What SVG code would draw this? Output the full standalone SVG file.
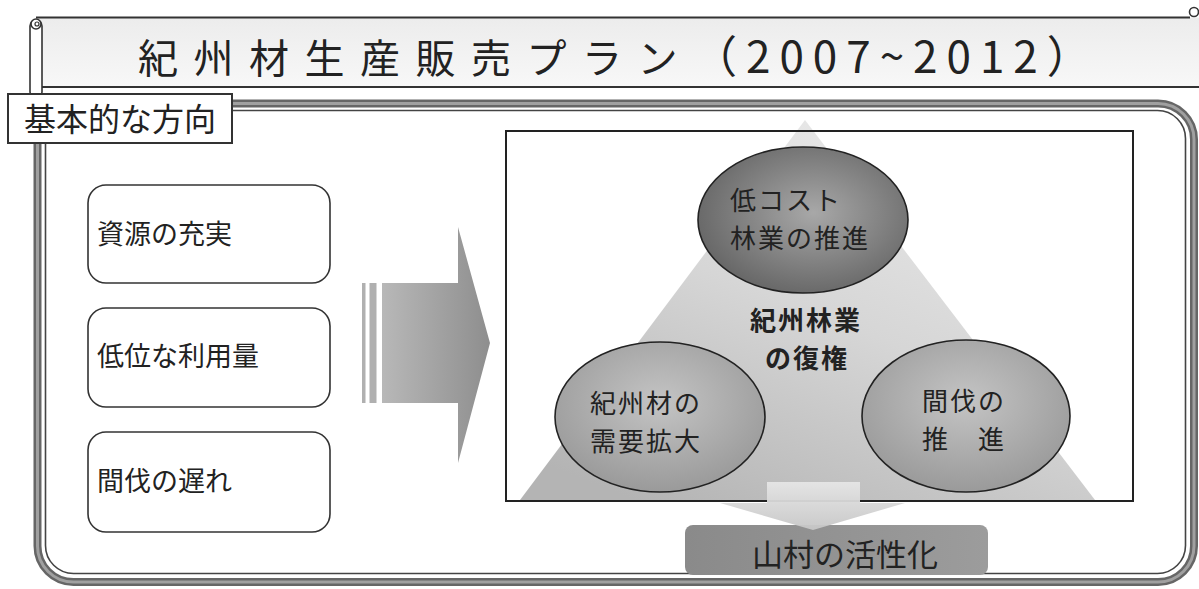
<svg xmlns="http://www.w3.org/2000/svg" width="1199" height="589" viewBox="0 0 1199 589">
<style>
text{font-family:"Noto Sans CJK JP","Noto Sans CJK SC",sans-serif;fill:#222;}
.lbl{font-size:27px;}
.ell{font-size:26px;letter-spacing:2px;}
.box{fill:#fff;stroke:#333;stroke-width:1.6;}
</style>
<defs>
<linearGradient id="banner" x1="0" y1="0" x2="0" y2="1"><stop offset="0" stop-color="#ececec"/><stop offset="1" stop-color="#f8f8f8"/></linearGradient>
<linearGradient id="arrowG" x1="0" y1="0" x2="1" y2="0"><stop offset="0" stop-color="#b8b8b8"/><stop offset="1" stop-color="#8e8e8e"/></linearGradient>
<linearGradient id="triG" x1="0.2" y1="1" x2="0.8" y2="0"><stop offset="0" stop-color="#b4b4b4"/><stop offset="0.5" stop-color="#d6d6d6"/><stop offset="1" stop-color="#ececec"/></linearGradient>
<radialGradient id="e1G" cx="0.55" cy="0.45" r="0.6"><stop offset="0" stop-color="#a8a8a8"/><stop offset="1" stop-color="#646464"/></radialGradient>
<radialGradient id="e2G" cx="0.5" cy="0.4" r="0.6"><stop offset="0" stop-color="#c4c4c4"/><stop offset="1" stop-color="#9a9a9a"/></radialGradient>
<linearGradient id="downG" x1="0" y1="0" x2="0" y2="1"><stop offset="0" stop-color="#e6e6e6"/><stop offset="1" stop-color="#c6c6c6"/></linearGradient>
<linearGradient id="villG" x1="0" y1="0" x2="1" y2="0"><stop offset="0" stop-color="#8a8a8a"/><stop offset="1" stop-color="#9c9c9c"/></linearGradient>
</defs>

<g id="title-banner">
<rect x="36" y="17.5" width="1163" height="70" fill="url(#banner)"/>
<line x1="36" y1="17.5" x2="1190" y2="17.5" stroke="#333" stroke-width="2"/>
<line x1="42" y1="87" x2="1199" y2="87" stroke="#333" stroke-width="2"/>
<rect x="30" y="20" width="12" height="78" rx="6" fill="#fff" stroke="#333" stroke-width="1.6"/>
<circle cx="36" cy="24" r="5" fill="#fff" stroke="#333" stroke-width="1.6"/>
<circle cx="37" cy="24" r="2" fill="none" stroke="#333" stroke-width="1.2"/>
<circle cx="1194" cy="12" r="4.5" fill="#fff" stroke="#333" stroke-width="1.6"/>
<text x="138" y="73" font-size="40" letter-spacing="15.5">紀州材生産販売プラン<tspan font-size="44" letter-spacing="9">（2007~2012）</tspan></text>
</g>

<g id="frame">
<rect x="37.5" y="103.5" width="1156.5" height="478.5" rx="36" fill="#fff" stroke="#666" stroke-width="8"/>
<rect x="37.5" y="103.5" width="1156.5" height="478.5" rx="36" fill="none" stroke="#a0a0a0" stroke-width="3"/>
<rect x="45.5" y="110.5" width="1140" height="463" rx="28" fill="none" stroke="#444" stroke-width="1.6"/>
</g>

<g id="section-label">
<rect x="8" y="94" width="224" height="49" fill="#fff" stroke="#333" stroke-width="2"/>
<text x="24" y="131" font-size="32">基本的な方向</text>
</g>

<g id="issue-1">
<rect class="box" x="88" y="185" width="242" height="98" rx="18"/>
<text class="lbl" x="97" y="244">資源の充実</text>
</g>
<g id="issue-2">
<rect class="box" x="88" y="308" width="242" height="99" rx="18"/>
<text class="lbl" x="97" y="366">低位な利用量</text>
</g>
<g id="issue-3">
<rect class="box" x="88" y="432" width="242" height="100" rx="18"/>
<text class="lbl" x="97" y="491">間伐の遅れ</text>
</g>

<g id="connectors">
<rect x="362" y="283" width="3.5" height="120" fill="#b0b0b0"/>
<rect x="369.5" y="283" width="7" height="120" fill="#b0b0b0"/>
<path d="M382,283 H458 V227 L490,343 L458,463 V403 H382 Z" fill="url(#arrowG)"/>
</g>

<g id="plan-panel">
<rect x="506" y="131" width="627" height="370" fill="#fff" stroke="none"/>
<path d="M805,120 L1095,500 L520,500 Z" fill="url(#triG)"/>
<rect x="506" y="131" width="627" height="370" fill="none" stroke="#222" stroke-width="2"/>
</g>

<g id="center-goal">
<text class="ell" font-weight="bold"><tspan x="750" y="330">紀州林業</tspan><tspan x="765" y="368">の復権</tspan></text>
</g>

<g id="low-cost">
<ellipse cx="803" cy="220" rx="105" ry="73" fill="url(#e1G)" stroke="#222" stroke-width="1.6"/>
<text class="ell"><tspan x="730" y="210">低コスト</tspan><tspan x="730" y="248">林業の推進</tspan></text>
</g>

<g id="demand">
<ellipse cx="660" cy="417" rx="105" ry="75" fill="url(#e2G)" stroke="#222" stroke-width="1.6"/>
<text class="ell"><tspan x="590" y="413">紀州材の</tspan><tspan x="590" y="451">需要拡大</tspan></text>
</g>

<g id="thinning">
<ellipse cx="966" cy="416" rx="104" ry="76" fill="url(#e2G)" stroke="#222" stroke-width="1.6"/>
<text class="ell"><tspan x="922" y="411">間伐の</tspan><tspan x="922" y="449">推　進</tspan></text>
</g>

<g id="village">
<rect x="685" y="525" width="303" height="50" rx="8" fill="url(#villG)"/>
<text x="752" y="566" font-size="31">山村の活性化</text>
</g>

<g id="down-arrow">
<path d="M767,482 H860 V503 H905 L813,530 L720,503 H767 Z" fill="url(#downG)" opacity="0.95"/>
</g>
</svg>
